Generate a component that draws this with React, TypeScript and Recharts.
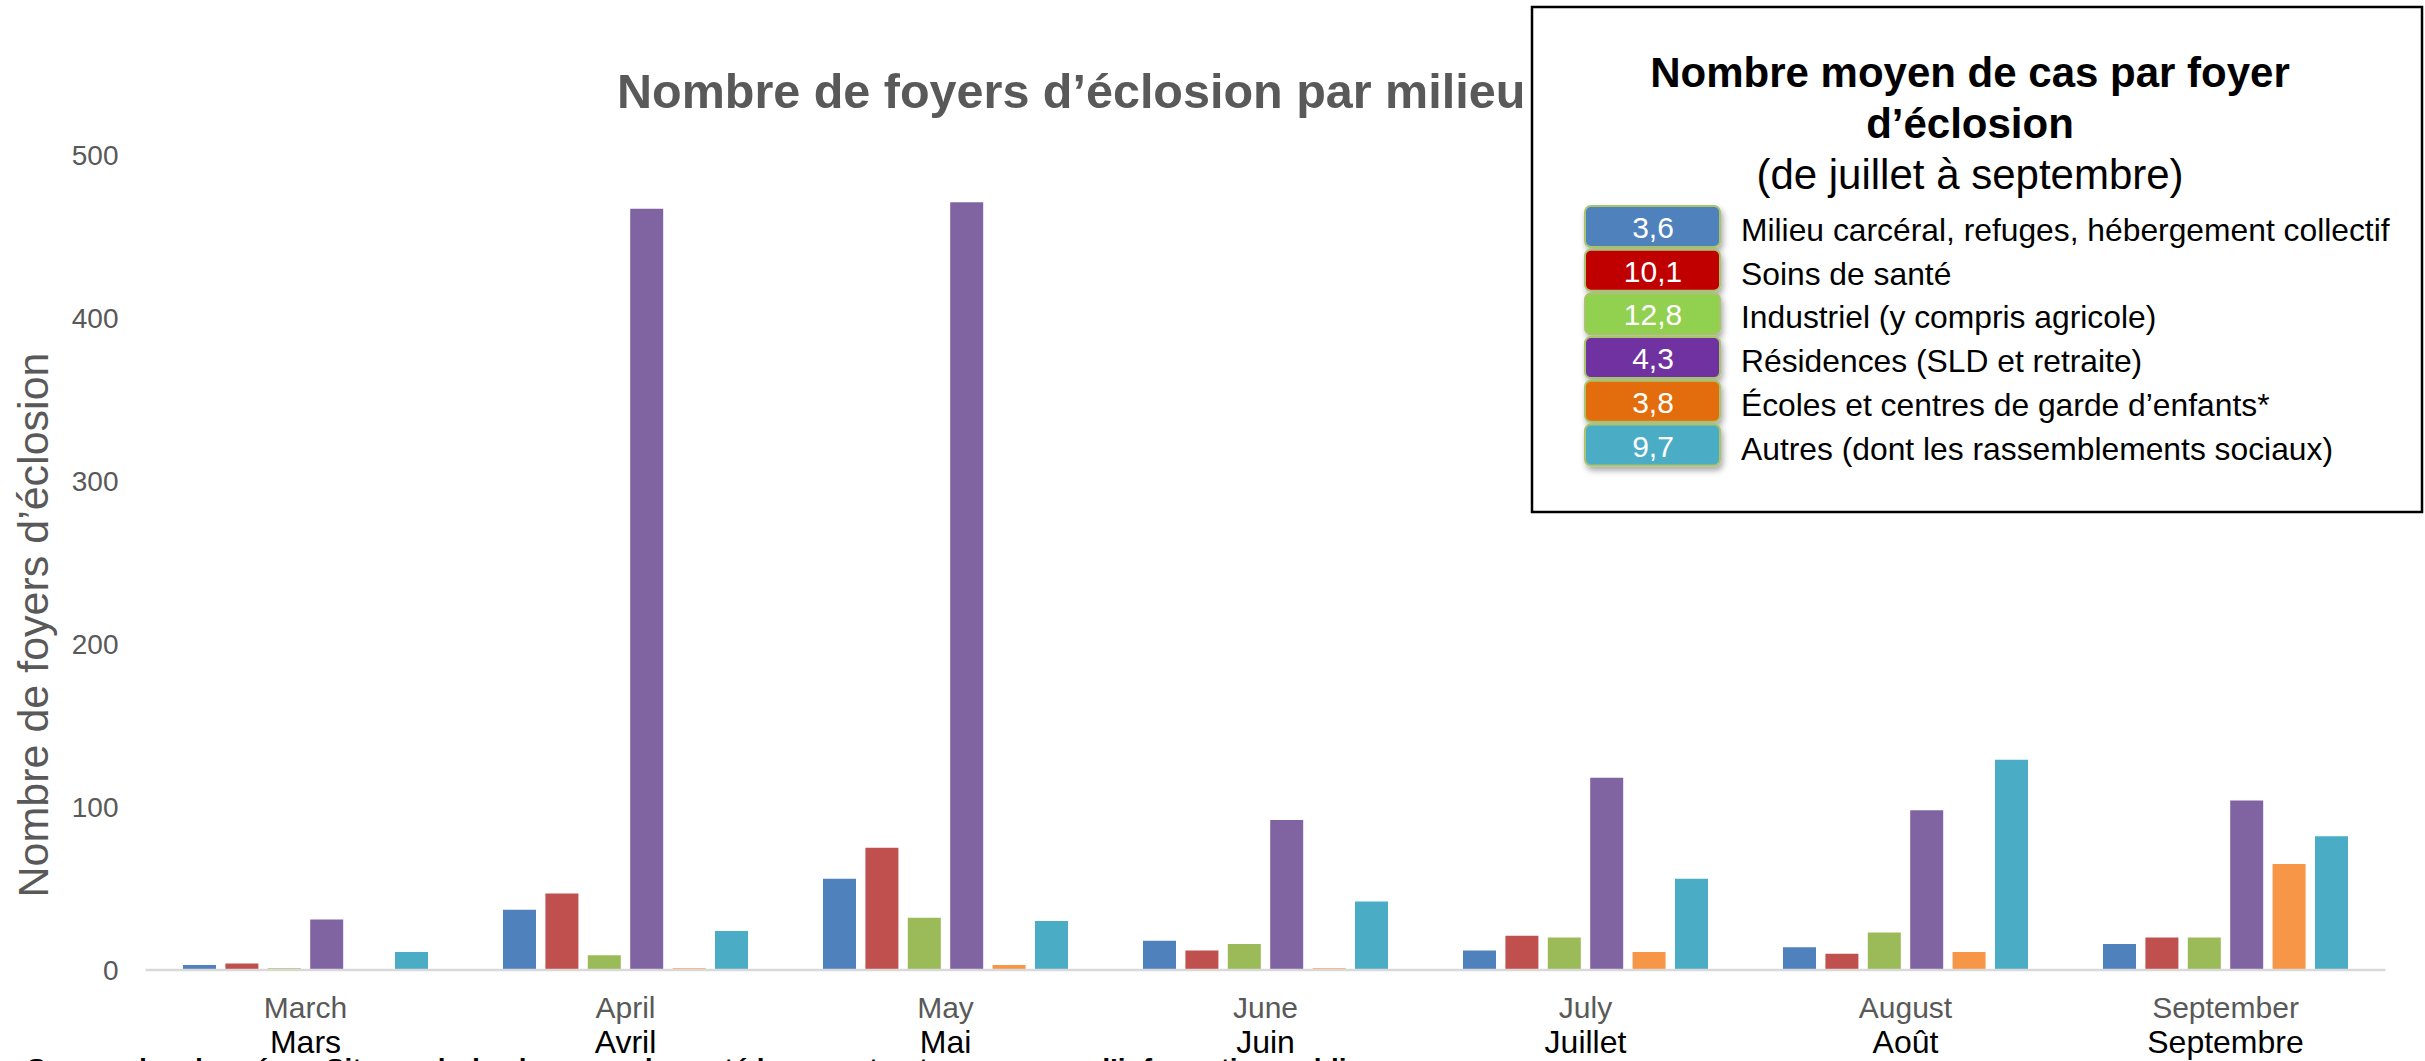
import React from 'react';
import { BarChart, Bar, XAxis, YAxis } from 'recharts';

const monthsEn = ['March', 'April', 'May', 'June', 'July', 'August', 'September'];
const monthsFr = ['Mars', 'Avril', 'Mai', 'Juin', 'Juillet', 'Août', 'Septembre'];

const carceral = [3, 37, 56, 18, 12, 14, 16];
const sante = [4, 47, 75, 12, 21, 10, 20];
const industriel = [1, 9, 32, 16, 20, 23, 20];
const residences = [31, 467, 471, 92, 118, 98, 104];
const ecoles = [0, 1, 3, 1, 11, 11, 65];
const autres = [11, 24, 30, 42, 56, 129, 82];

const yTicks = [0, 100, 200, 300, 400, 500];

const seriesKeys = ['carceral', 'sante', 'industriel', 'residences', 'ecoles', 'autres'];
const barColors = ['#4F81BD', '#C0504D', '#9BBB59', '#8064A2', '#F79646', '#4BACC6'];

const legendValues = ['3,6', '10,1', '12,8', '4,3', '3,8', '9,7'];
const legendNames = [
  'Milieu carcéral, refuges, hébergement collectif',
  'Soins de santé',
  'Industriel (y compris agricole)',
  'Résidences (SLD et retraite)',
  'Écoles et centres de garde d’enfants*',
  'Autres (dont les rassemblements sociaux)',
];
const legendColors = ['#4F81BD', '#C00000', '#92D050', '#7030A0', '#E36C09', '#4BACC6'];

const chartTitle = 'Nombre de foyers d’éclosion par milieu';
const yLabel = 'Nombre de foyers d’éclosion';
const legendTitle1 = 'Nombre moyen de cas par foyer';
const legendTitle2 = 'd’éclosion';
const legendSubtitle = '(de juillet à septembre)';
const sourceText = 'Source des données : Sites web des bureaux de santé locaux et autres sources d’information publique';

const data = monthsEn.map((m, i) => ({
  month: m,
  fr: monthsFr[i],
  carceral: carceral[i],
  sante: sante[i],
  industriel: industriel[i],
  residences: residences[i],
  ecoles: ecoles[i],
  autres: autres[i],
}));

const FONT = '"Liberation Sans", Arial, sans-serif';

const MonthTick = (props: any) => {
  const { x, y, payload, index } = props;
  return (
    <g>
      <text x={x} y={y + 48} textAnchor="middle" fontSize={30} fill="#595959" fontFamily={FONT}>
        {payload.value}
      </text>
      <text x={x} y={y + 83} textAnchor="middle" fontSize={32} fill="#000000" fontFamily={FONT}>
        {monthsFr[index]}
      </text>
    </g>
  );
};

export default function App() {
  return (
    <div style={{ position: 'absolute', left: 0, top: 0, width: 2425, height: 1061, background: '#ffffff', overflow: 'hidden' }}>
      <BarChart
        width={2425}
        height={1061}
        data={data}
        margin={{ top: 155, right: 39.5, bottom: 0, left: 0 }}
        barCategoryGap={37.5}
        barGap={9.4}
      >
        <XAxis
          dataKey="month"
          height={91}
          interval={0}
          tickLine={false}
          tickSize={0}
          tickMargin={0}
          axisLine={{ stroke: '#D9D9D9', strokeWidth: 2.5 }}
          tick={<MonthTick />}
        />
        <YAxis
          domain={[0, 500]}
          ticks={yTicks}
          width={145.5}
          axisLine={false}
          tickLine={false}
          tickSize={0}
          tickMargin={27}
          tick={{ fontSize: 28, fill: '#595959', fontFamily: FONT }}
        />
        {seriesKeys.map((k, i) => (
          <Bar key={k} dataKey={k} fill={barColors[i]} isAnimationActive={false} />
        ))}
      </BarChart>
      <svg width={2425} height={1061} style={{ position: 'absolute', left: 0, top: 0 }} fontFamily={FONT}>
        <defs>
          <filter id="shadow" x="-20%" y="-30%" width="140%" height="180%">
            <feDropShadow dx="2" dy="4" stdDeviation="3" floodColor="#000" floodOpacity="0.35" />
          </filter>
        </defs>
        <text x={617} y={108} fontSize={48.5} fontWeight="bold" fill="#595959">{chartTitle}</text>
        <text
          transform="translate(48,625) rotate(-90)"
          textAnchor="middle"
          fontSize={43}
          fill="#595959"
        >
          {yLabel}
        </text>
        <rect x={1532} y={7} width={890} height={505} fill="#ffffff" stroke="#000000" strokeWidth={2.5} />
        <text x={1970} y={87} textAnchor="middle" fontSize={42} fontWeight="bold" fill="#000">{legendTitle1}</text>
        <text x={1970} y={138} textAnchor="middle" fontSize={42} fontWeight="bold" fill="#000">{legendTitle2}</text>
        <text x={1970} y={189} textAnchor="middle" fontSize={42} fill="#000">{legendSubtitle}</text>
        {legendNames.map((name, i) => {
          const top = 206 + i * 43.7;
          return (
            <g key={name}>
              <rect x={1585} y={top} width={135} height={41} rx={6} ry={6} fill={legendColors[i]} stroke="#A9C46C" strokeWidth={2} filter="url(#shadow)" />
              <text x={1653} y={top + 32} textAnchor="middle" fontSize={30} fill="#ffffff">{legendValues[i]}</text>
              <text x={1741} y={top + 35} fontSize={31.8} fill="#000">{name}</text>
            </g>
          );
        })}
        <text x={27} y={1078} fontSize={28} fontWeight="bold" fill="#000">{sourceText}</text>
      </svg>
    </div>
  );
}
